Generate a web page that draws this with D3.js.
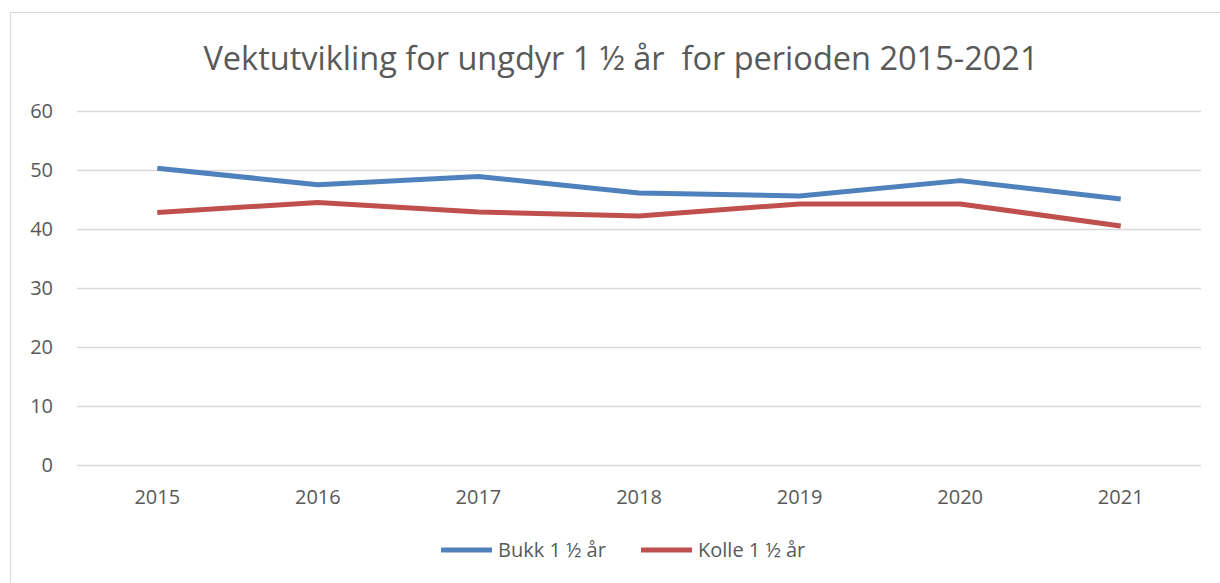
<!DOCTYPE html>
<html>
<head>
<meta charset="utf-8">
<script src="https://cdn.jsdelivr.net/npm/d3@7"></script>
<style>
  body { margin: 0; background: #fff; }
  text { font-family: "Open Sans", "Liberation Sans", sans-serif; fill: #595959; }
</style>
</head>
<body>
<div id="chart"></div>
<script>
/* DATA */
const years = ["2015", "2016", "2017", "2018", "2019", "2020", "2021"];
const bukk = [50.3, 47.5, 48.9, 46.1, 45.6, 48.2, 45.1];
const kolle = [42.8, 44.5, 42.9, 42.2, 44.25, 44.25, 40.5];
const yTicks = [0, 10, 20, 30, 40, 50, 60];
const seriesNames = ["Bukk 1 ½ år", "Kolle 1 ½ år"];
const colors = ["#4F81BD", "#C0504D"];

/* CONSTANTS */
const width = 1220,
  height = 583,
  margin = { top: 111, bottom: 118, left: 77, right: 19 };

const svg = d3.select("#chart")
  .append("svg")
  .attr("width", width)
  .attr("height", height);

// chart border
svg.append("rect")
  .attr("x", 10.5)
  .attr("y", 12.5)
  .attr("width", width)
  .attr("height", height)
  .attr("fill", "none")
  .attr("stroke", "#d9d9d9");

// title
svg.append("text")
  .attr("x", 621)
  .attr("y", 70)
  .attr("text-anchor", "middle")
  .style("font-size", "32.5px")
  .attr("xml:space", "preserve")
  .text("Vektutvikling for ungdyr 1 ½ år  for perioden 2015-2021");

// scales
const xScale = d3.scaleBand()
  .domain(years)
  .range([margin.left, width - margin.right]);

const yScale = d3.scaleLinear()
  .domain([0, 60])
  .range([height - margin.bottom, margin.top]);

// gridlines
svg.append("g")
  .selectAll("line")
  .data(yTicks)
  .join("line")
  .attr("x1", margin.left)
  .attr("x2", width - margin.right)
  .attr("y1", d => Math.round(yScale(d)) + 0.5)
  .attr("y2", d => Math.round(yScale(d)) + 0.5)
  .attr("stroke", "#d9d9d9")
  .attr("stroke-width", 1.5);

// y axis labels
const yAxis = d3.axisLeft(yScale).tickValues(yTicks).tickSize(0).tickPadding(0);
svg.append("g")
  .attr("transform", `translate(${margin.left - 24},0)`)
  .call(yAxis)
  .call(g => g.select(".domain").remove())
  .selectAll("text")
  .style("font-size", "20px")
  .style("fill", "#595959");

// x axis labels
const xAxis = d3.axisBottom(xScale).tickSize(0).tickPadding(0);
svg.append("g")
  .attr("transform", `translate(0,${height - margin.bottom + 25})`)
  .call(xAxis)
  .call(g => g.select(".domain").remove())
  .selectAll("text")
  .style("font-size", "20px")
  .style("fill", "#595959");

// lines
const lineFunction = d3.line()
  .x((d, i) => xScale(years[i]) + xScale.bandwidth() / 2)
  .y(d => yScale(d));

svg.selectAll(".line")
  .data([bukk, kolle])
  .join("path")
  .attr("class", "line")
  .attr("fill", "none")
  .attr("stroke", (d, i) => colors[i])
  .attr("stroke-width", 5)
  .attr("stroke-linejoin", "round")
  .attr("d", d => lineFunction(d));

// legend
const legend = svg.append("g")
  .attr("transform", "translate(441,550)");

const items = legend.selectAll("g")
  .data(seriesNames)
  .join("g")
  .attr("transform", (d, i) => `translate(${i * 200},0)`);

items.append("line")
  .attr("x1", 0)
  .attr("x2", 51)
  .attr("stroke", (d, i) => colors[i])
  .attr("stroke-width", 5);

items.append("text")
  .attr("x", 57)
  .attr("y", 7)
  .style("font-size", "20px")
  .text(d => d);
</script>
</body>
</html>
